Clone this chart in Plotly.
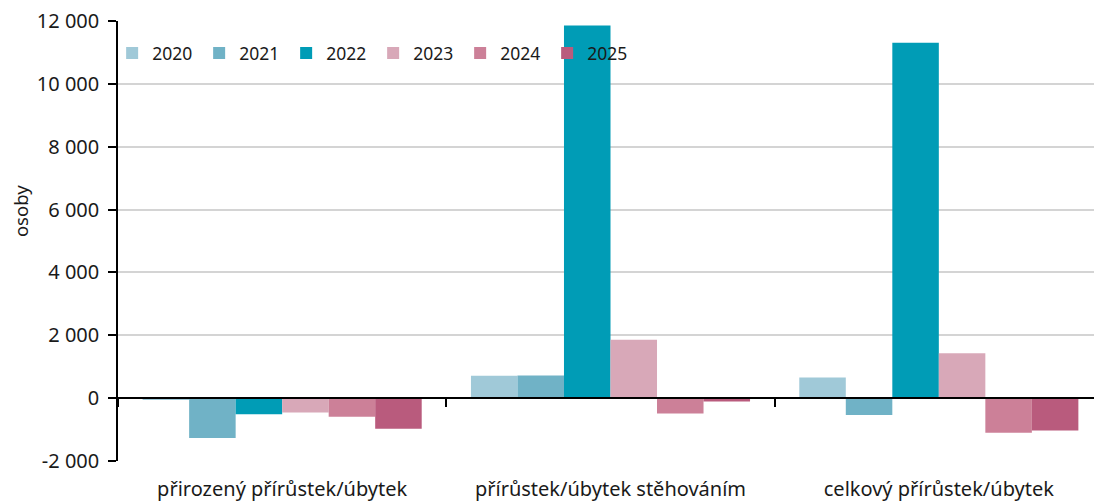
import plotly.graph_objects as go

categories = ["přirozený přírůstek/úbytek", "přírůstek/úbytek stěhováním", "celkový přírůstek/úbytek"]
years = ["2020", "2021", "2022", "2023", "2024", "2025"]
values_2020 = [-60, 715, 655]
values_2021 = [-1270, 720, -540]
values_2022 = [-510, 11860, 11310]
values_2023 = [-455, 1860, 1430]
values_2024 = [-595, -490, -1100]
values_2025 = [-975, -105, -1030]
y_tick_values = [-2000, 0, 2000, 4000, 6000, 8000, 10000, 12000]
y_tick_labels = ["-2 000", "0", "2 000", "4 000", "6 000", "8 000", "10 000", "12 000"]
colors = ["#a0c9d8", "#70b2c6", "#009cb6", "#d8a8b8", "#cc8098", "#b95b7d"]

series = [values_2020, values_2021, values_2022, values_2023, values_2024, values_2025]

FONT = "Noto Sans"
TXT = "#1a1a1a"
fig = go.Figure()
for yr, vals, col in zip(years, series, colors):
    fig.add_trace(go.Bar(name=yr, x=categories, y=vals, marker=dict(color=col, line=dict(width=0)),
                         xaxis="x", yaxis="y"))

# transparent trace on overlay axis (zero line with category boundary ticks)
fig.add_trace(go.Bar(x=categories, y=[0, 0, 0], xaxis="x2", yaxis="y", showlegend=False,
                     hoverinfo="skip", marker=dict(color="rgba(0,0,0,0)")))

XR = [-0.5, 2.4726]
fig.update_layout(
    width=1094, height=502,
    margin=dict(l=118, r=0, t=21, b=41),
    paper_bgcolor="white", plot_bgcolor="white",
    font=dict(family=FONT, size=20, color=TXT),
    barmode="group", bargap=0.15, bargroupgap=0,
    showlegend=True,
    legend=dict(orientation="h", x=-0.006, y=0.927, xanchor="left", yanchor="middle",
                font=dict(family=FONT, size=17.5, color=TXT),
                bgcolor="rgba(0,0,0,0)", itemwidth=30, entrywidth=42,
                entrywidthmode="pixels", tracegroupgap=0),
    xaxis=dict(type="category", range=XR, showline=False, showgrid=False,
               zeroline=False, ticks="outside", ticklen=10, tickcolor="rgba(0,0,0,0)",
               tickfont=dict(family=FONT, size=20, color=TXT)),
    xaxis2=dict(type="category", range=XR, overlaying="x", anchor="free",
                position=2000/14000, showline=True, linecolor="black", linewidth=1.5,
                ticks="outside", tickson="boundaries", ticklen=8, tickcolor="black",
                tickwidth=1.5, showticklabels=False, showgrid=False, zeroline=False),
    yaxis=dict(range=[-2000, 12000], tickmode="array", tickvals=y_tick_values,
               ticktext=y_tick_labels, showgrid=True,
               gridcolor="#d4d4d4", gridwidth=1.5, zeroline=True, zerolinecolor="black",
               zerolinewidth=1.5, showline=True, linecolor="black", linewidth=1.5,
               ticks="outside", ticklen=8, tickcolor="black", tickwidth=1.5,
               ticklabelstandoff=5,
               tickfont=dict(family=FONT, size=20, color=TXT)),
    annotations=[dict(text="osoby", textangle=-90, xref="paper", yref="paper",
                      x=-0.1004, y=0.568, xanchor="center", yanchor="middle", showarrow=False,
                      font=dict(family=FONT, size=18.5, color=TXT))],
)

fig.write_html("out.html", config={"displayModeBar": False},
               post_script="document.body.style.margin='0';document.body.style.overflow='hidden';")
